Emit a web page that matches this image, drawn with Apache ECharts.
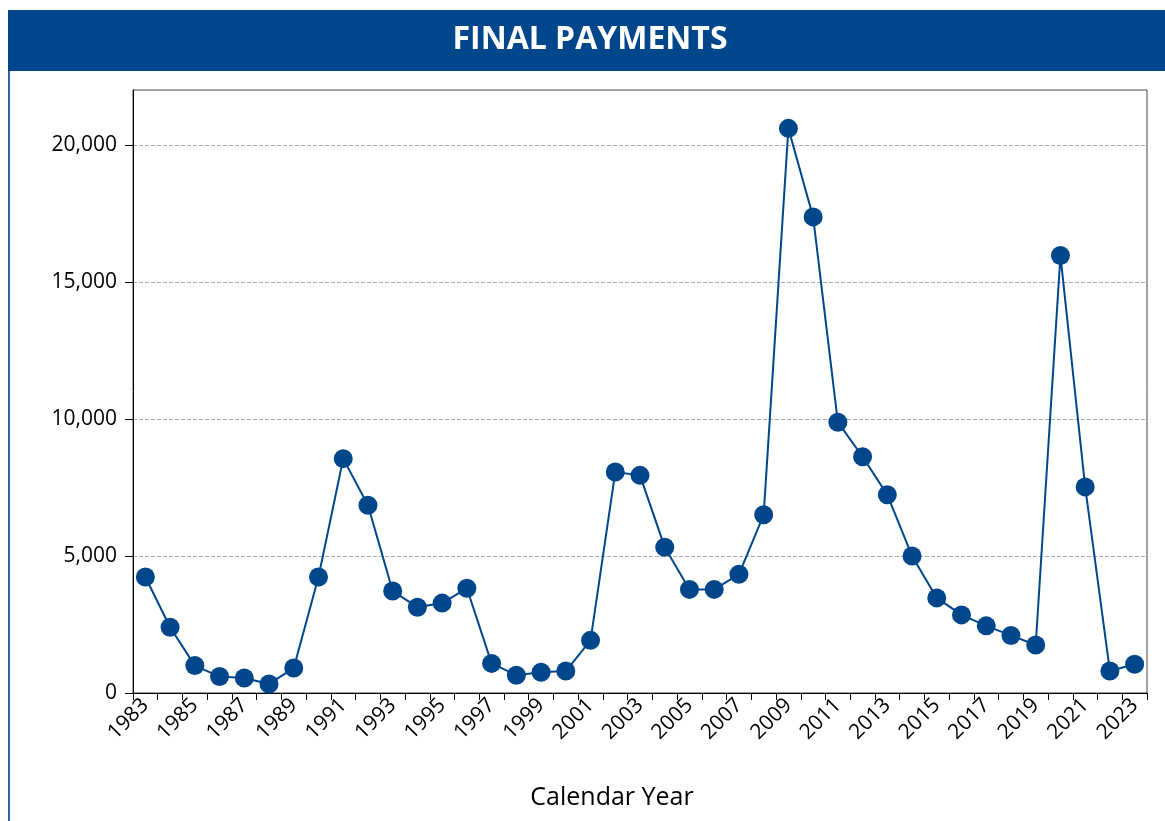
<!DOCTYPE html>
<html>
<head>
<meta charset="utf-8">
<script src="https://cdn.jsdelivr.net/npm/echarts@6/dist/echarts.min.js"></script>
<style>
html,body{margin:0;padding:0;background:#fff;}
#main{width:1165px;height:821px;}
</style>
</head>
<body>
<div id="main"></div>
<script>
// 年份
var years = [];
for (var y = 1983; y <= 2023; y++) { years.push(String(y)); }

// 最终支付数
var payments = [4230, 2400, 1000, 600, 550, 330, 910, 4230, 8550, 6850,
    3720, 3130, 3280, 3820, 1080, 650, 760, 800, 1920, 8060,
    7940, 5320, 3780, 3780, 4330, 6500, 20600, 17370, 9880, 8620,
    7230, 5000, 3470, 2850, 2450, 2100, 1750, 15960, 7520, 800, 1050];

// y轴刻度
var yTicks = [0, 5000, 10000, 15000, 20000];

var blue = '#00468b';
var fontFam = '"Open Sans", "Noto Sans", sans-serif';

var final_pay = {
    backgroundColor: '#fff',
    animation: false,
    graphic: [
        {
            type: 'rect',
            shape: { x: 8, y: 10, width: 1157, height: 61 },
            style: { fill: blue }
        },
        {
            type: 'rect',
            shape: { x: 8, y: 71, width: 2, height: 750 },
            style: { fill: '#2f63a0' }
        },
        {
            type: 'text',
            x: 590, y: 40,
            style: {
                text: 'FINAL PAYMENTS',
                fill: '#fff',
                font: 'bold 32px ' + fontFam,
                textAlign: 'center',
                textVerticalAlign: 'middle'
            }
        }
    ],
    grid: {
        left: 133,
        right: 18,
        top: 90,
        bottom: 128,
        show: true,
        borderColor: '#444',
        borderWidth: 1
    },
    xAxis: {
        type: 'category',
        data: years,
        boundaryGap: true,
        name: 'Calendar Year',
        nameLocation: 'middle',
        nameGap: 92,
        nameTextStyle: { fontSize: 25, color: '#000', fontFamily: fontFam, padding: [0, 56, 0, 0] },
        axisLine: { lineStyle: { color: '#000', width: 1 } },
        axisTick: { show: true, interval: 0, length: 7, lineStyle: { color: '#000' } },
        axisLabel: {
            interval: 1,
            rotate: 45,
            fontSize: 21,
            color: '#000',
            fontFamily: fontFam,
            margin: 9
        },
        splitLine: { show: false }
    },
    yAxis: {
        type: 'value',
        min: 0,
        max: 22000,
        interval: 5000,
        axisLine: { show: true, lineStyle: { color: '#000', width: 1 } },
        axisTick: { show: true, length: 8, customValues: yTicks, lineStyle: { color: '#000' } },
        axisLabel: {
            fontSize: 21,
            color: '#000',
            fontFamily: fontFam,
            margin: 16,
            customValues: yTicks,
            formatter: function (v) { return v.toLocaleString('en-US'); }
        },
        splitLine: { show: true, lineStyle: { color: '#aaa', type: 'dashed', width: 1 } }
    },
    series: [
        {
            name: 'Final Payments',
            type: 'line',
            data: payments,
            symbol: 'circle',
            symbolSize: 19,
            showAllSymbol: true,
            itemStyle: { color: blue },
            lineStyle: { color: blue, width: 2 }
        }
    ]
};

var chartOutChar_final_pay = echarts.init(document.getElementById('main'));
chartOutChar_final_pay.setOption(final_pay);
</script>
</body>
</html>
